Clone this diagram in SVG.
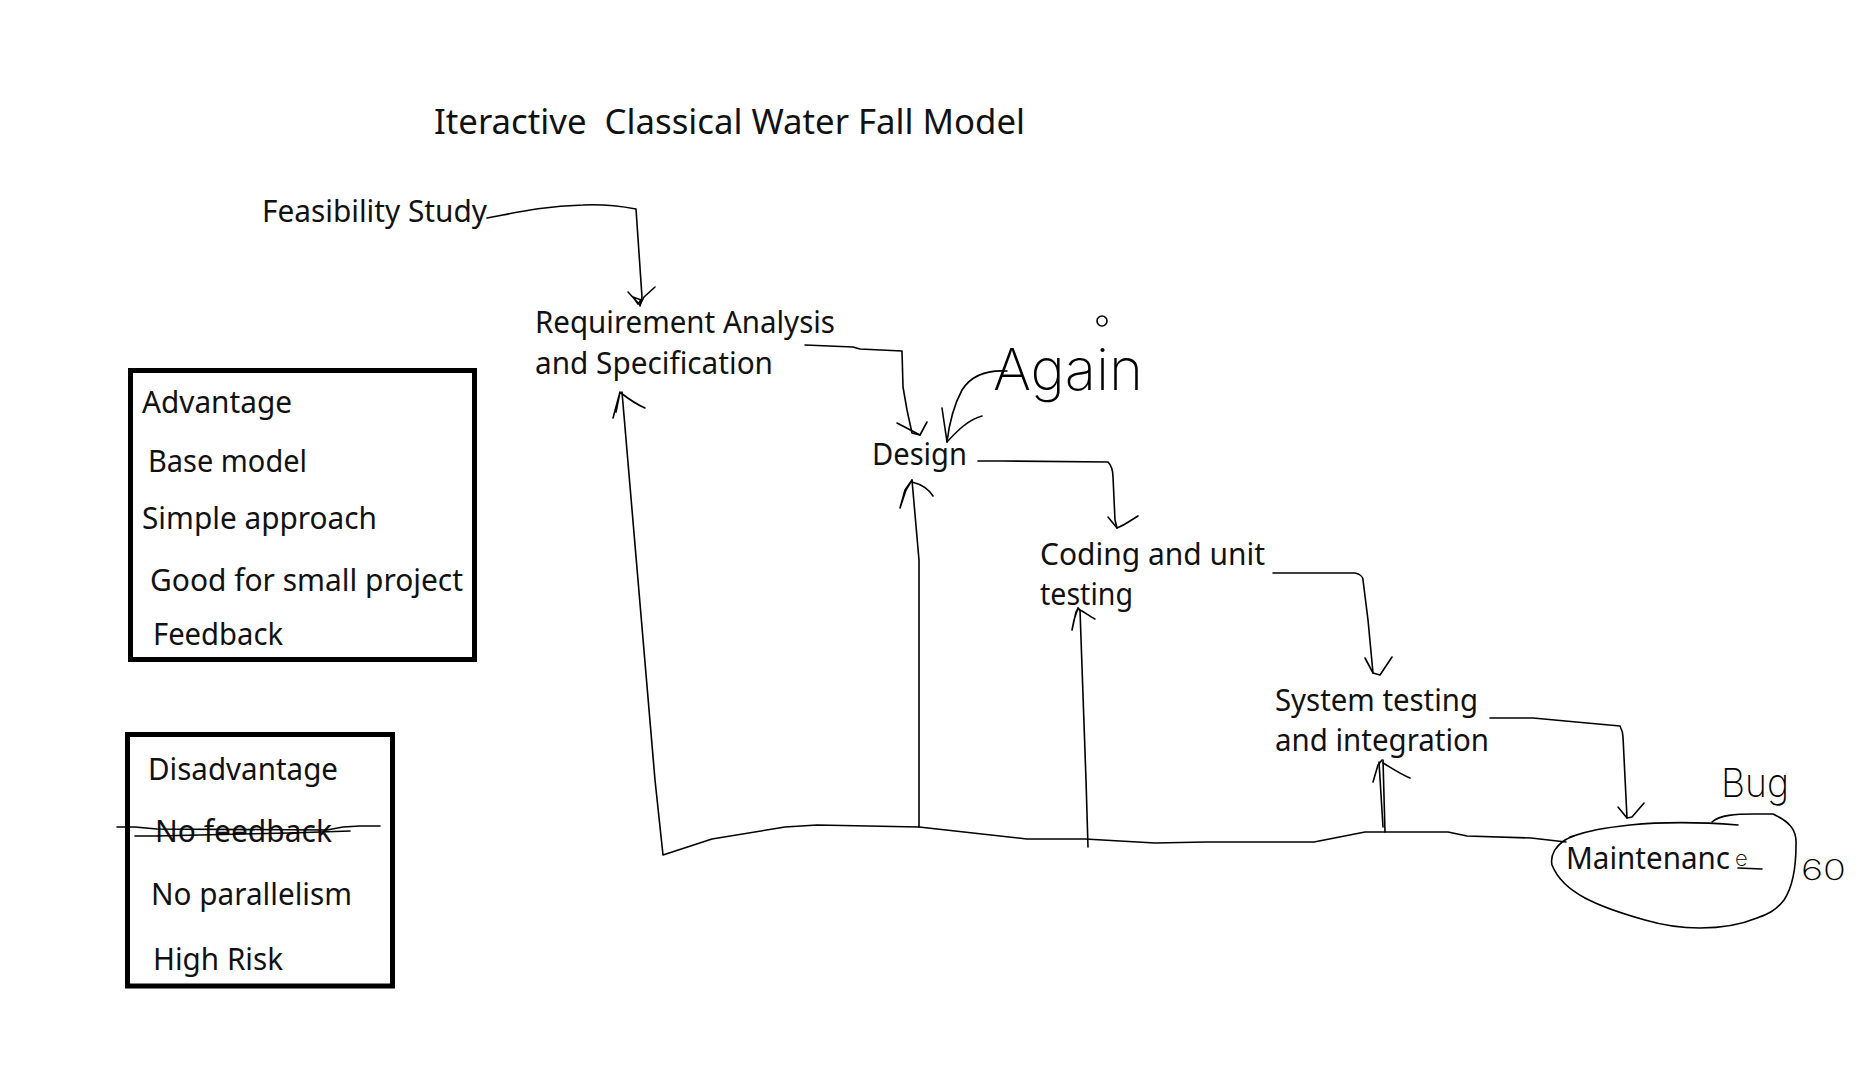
<svg xmlns="http://www.w3.org/2000/svg" width="1866" height="1065" viewBox="0 0 1866 1065">
<style>
.t{font-family:"Noto Sans","Open Sans","Liberation Sans",sans-serif;font-size:31px;fill:#111}
.ttl{font-family:"Noto Sans","Open Sans","Liberation Sans",sans-serif;font-size:35px;fill:#111}
.hand{font-family:"Inter","DejaVu Sans",sans-serif;font-weight:200;fill:#000}
.ln{fill:none;stroke:#000;stroke-width:1.6;stroke-linejoin:round;stroke-linecap:round}
.box{fill:none;stroke:#000;stroke-width:5}
</style>
<rect width="1866" height="1065" fill="#fff"/>
<g id="title"><text class="ttl" x="434" y="134" xml:space="preserve" textLength="591" lengthAdjust="spacingAndGlyphs">Iteractive  Classical Water Fall Model</text></g>
<g id="feasibility"><text class="t" x="262" y="222" textLength="225" lengthAdjust="spacingAndGlyphs">Feasibility Study</text></g>
<g id="requirement"><text class="t" x="535" y="333" textLength="300" lengthAdjust="spacingAndGlyphs">Requirement Analysis</text><text class="t" x="535" y="374" textLength="238" lengthAdjust="spacingAndGlyphs">and Specification</text></g>
<g id="design"><text class="t" x="872" y="465" textLength="95" lengthAdjust="spacingAndGlyphs">Design</text></g>
<g id="coding"><text class="t" x="1040" y="565" textLength="225" lengthAdjust="spacingAndGlyphs">Coding and unit</text><text class="t" x="1040" y="605" textLength="93" lengthAdjust="spacingAndGlyphs">testing</text></g>
<g id="system"><text class="t" x="1275" y="711" textLength="203" lengthAdjust="spacingAndGlyphs">System testing</text><text class="t" x="1275" y="751" textLength="214" lengthAdjust="spacingAndGlyphs">and integration</text></g>
<g id="maintenance">
<path class="ln" d="M1570,837 C1590,830 1604,828 1630,825 C1660,822 1700,822 1738,825"/>
<path class="ln" d="M1712,822 C1720,815 1735,814 1755,814 L1773,814 C1790,822 1797,830 1796,845 C1796,870 1792,888 1784,900 C1775,912 1765,915 1757,918 C1740,925 1720,928 1700,928 C1680,928 1662,925 1645,920 C1620,913 1600,906 1585,898 C1570,890 1558,880 1552,865 C1550,855 1556,846 1565,840 C1568,838 1571,837 1574,836"/>
<text class="t" x="1566" y="869"><tspan textLength="164" lengthAdjust="spacingAndGlyphs">Maintenanc</tspan><tspan class="hand" x="1735" y="866" font-size="22">e</tspan></text>
<path class="ln" d="M1738,868 L1762,869"/>
</g>
<g id="advantages">
<rect class="box" x="130.5" y="370.5" width="344" height="289"/>
<text class="t" x="142" y="413" textLength="150" lengthAdjust="spacingAndGlyphs">Advantage</text>
<text class="t" x="148" y="472" textLength="159" lengthAdjust="spacingAndGlyphs">Base model</text>
<text class="t" x="142" y="529" textLength="235" lengthAdjust="spacingAndGlyphs">Simple approach</text>
<text class="t" x="150" y="591" textLength="313" lengthAdjust="spacingAndGlyphs">Good for small project</text>
<text class="t" x="153" y="645" textLength="130" lengthAdjust="spacingAndGlyphs">Feedback</text>
</g>
<g id="disadvantages">
<rect class="box" x="127.5" y="734.5" width="265" height="251.5"/>
<text class="t" x="148" y="780" textLength="190" lengthAdjust="spacingAndGlyphs">Disadvantage</text>
<text class="t" x="155" y="842" textLength="177" lengthAdjust="spacingAndGlyphs">No feedback</text>
<path class="ln" d="M117,827 L135,827 L157,829 L327,830 L343,827 L360,826 L380,826"/>
<path class="ln" d="M135,836 L155,836 L290,833 L350,831"/>
<text class="t" x="151" y="905" textLength="201" lengthAdjust="spacingAndGlyphs">No parallelism</text>
<text class="t" x="153" y="970" textLength="130" lengthAdjust="spacingAndGlyphs">High Risk</text>
</g>
<g id="annotations">
<text class="hand" x="993" y="390" font-size="58" textLength="150" lengthAdjust="spacingAndGlyphs">Again</text>
<ellipse class="ln" cx="1102" cy="321" rx="5" ry="5"/>
<text class="hand" x="1721" y="797" font-size="40" textLength="68" lengthAdjust="spacingAndGlyphs">Bug</text>
<text class="hand" x="1801" y="880" font-size="28" textLength="45" lengthAdjust="spacingAndGlyphs">60</text>
</g>
<g id="connectors">
<path class="ln" d="M487,218 C510,214 540,206 583,205 C605,204 620,206 636,209 L642,297 L640,306"/>
<path class="ln" d="M628,292 L640,305 L644,297 L655,287 M633,297 L641,300 L638,304 Z"/>
<path class="ln" d="M805,345 L853,347 L860,349 L902,351 L903,387 L907,410 L912,433 L920,435"/>
<path class="ln" d="M897,423 L920,435 L927,422"/>
<path class="ln" d="M1007,371 C990,370 972,374 962,390 C954,405 949,425 947,442"/>
<path class="ln" d="M942,408 L947,442 C958,430 968,420 982,416"/>
<path class="ln" d="M978,461 L1003,461 L1108,462 C1112,466 1113,472 1113,477 L1115,520 L1117,528"/>
<path class="ln" d="M1108,517 L1117,528 C1122,526 1127,523 1130,521 L1138,516"/>
<path class="ln" d="M1273,573 L1355,573 C1360,574 1363,577 1363,580 L1368,620 L1373,673"/>
<path class="ln" d="M1365,658 L1373,673 L1380,675 L1392,657"/>
<path class="ln" d="M1490,718 L1533,718 L1587,723 L1620,726 C1622,730 1623,733 1623,737 L1627,818"/>
<path class="ln" d="M1618,807 L1627,818 L1632,817 L1644,803"/>
<path class="ln" d="M1566,842 L1531,838 L1467,836 L1448,832 L1365,832 L1314,842 L1206,842 L1155,843 L1085,839 L1027,839 L919,827 L868,826 L817,825 L785,827 L712,839 L663,855 L655,780 L622,392"/>
<path class="ln" d="M613,418 L620,392 L616,412 M621,393 C630,400 638,405 645,408"/>
<path class="ln" d="M919,827 L919,560 L912,480"/>
<path class="ln" d="M900,508 L905,490 L912,480 L906,490 L900,508 M912,482 C920,484 928,488 933,496"/>
<path class="ln" d="M1088,847 L1086,780 L1080,610 L1078,608"/>
<path class="ln" d="M1072,630 L1076,612 L1078,608 L1074,620 L1072,630 M1078,609 C1085,612 1090,617 1095,619"/>
<path class="ln" d="M1385,832 L1383,760 M1379,762 L1383,827"/>
<path class="ln" d="M1373,782 L1378,765 L1382,760 M1383,763 C1390,767 1400,774 1410,778"/>
</g>
</svg>
